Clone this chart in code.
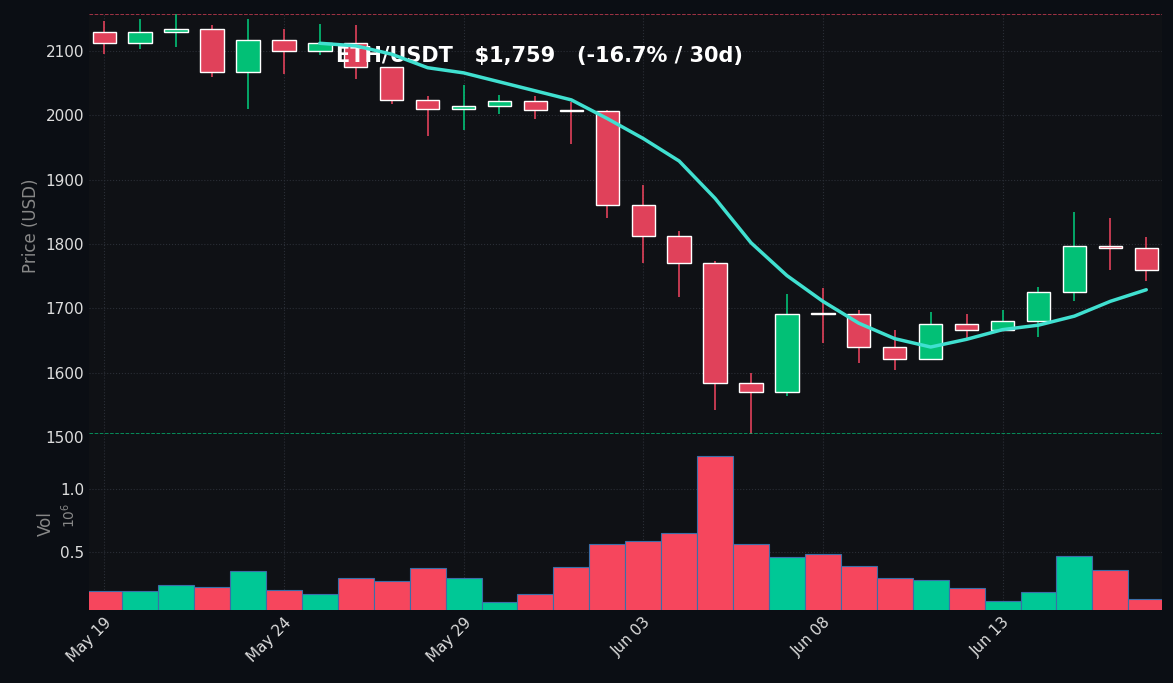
import numpy as np, pandas as pd, seaborn as sns
import matplotlib
matplotlib.use("Agg")
import matplotlib.pyplot as plt
import matplotlib.dates as mdates

dates = pd.date_range("2024-05-19", periods=30, freq="D")
opens  = [2129,2112,2129,2134,2067,2117,2100,2112,2075,2024,2010,2015,2023,2008,2007,1860,1813,1771,1584,1570,1692,1691,1640,1621,1675,1666,1681,1725,1797,1794]
closes = [2112,2129,2134,2067,2117,2100,2112,2075,2024,2010,2015,2023,2008,2007,1860,1813,1771,1584,1570,1691,1691,1640,1621,1675,1666,1681,1725,1797,1794,1759]
highs  = [2146,2150,2157,2140,2150,2134,2142,2140,2075,2030,2047,2031,2030,2021,2008,1892,1821,1774,1600,1722,1731,1697,1666,1694,1691,1697,1733,1850,1841,1811]
lows   = [2095,2103,2106,2060,2010,2064,2094,2057,2018,1968,1977,2002,1995,1956,1841,1770,1718,1542,1505,1564,1646,1615,1605,1621,1654,1666,1656,1711,1759,1743]
ma     = [np.nan]*6 + [2112,2108,2095,2074,2066,2052,2038,2024,1995,1964,1929,1871,1802,1751,1711,1677,1653,1640,1652,1667,1674,1688,1711,1729]
volume = [0.19,0.19,0.24,0.22,0.35,0.20,0.17,0.29,0.27,0.37,0.29,0.10,0.17,0.38,0.56,0.59,0.65,1.26,0.56,0.46,0.48,0.39,0.29,0.28,0.21,0.11,0.18,0.47,0.36,0.13]

BG = "#0b0e14"; AX = "#0f1115"; GREEN = "#02c076"; RED = "#e0415a"
VG = "#00c896"; VR = "#f6465d"
sns.set_theme(style="dark")
plt.rcParams.update({"text.color": "#dddddd", "axes.labelcolor": "#888888",
                     "xtick.color": "#dddddd", "ytick.color": "#dddddd"})
plt.rcParams['font.family'] = ['DejaVu Sans']

fig = plt.figure(figsize=(11.73, 6.83), dpi=100, facecolor=BG)
ax = fig.add_axes([0.076, 0.36, 0.915, 0.62])
axv = fig.add_axes([0.076, 0.107, 0.915, 0.253], sharex=ax)
x = mdates.date2num(dates)
up = np.array(closes) >= np.array(opens)
for a in (ax, axv):
    a.set_facecolor(AX)
    a.grid(True, color="#2a2e36", linestyle=":", linewidth=0.8)
    for s in a.spines.values(): s.set_visible(False)
    a.tick_params(length=0)

cols = [GREEN if u else RED for u in up]
ax.vlines(x, lows, highs, colors=cols, linewidth=1.2, zorder=2)
body = np.maximum(np.abs(np.array(closes) - np.array(opens)), 1.5)
ax.bar(x, body, bottom=np.minimum(opens, closes), width=0.65, color=cols, zorder=3)
sns.lineplot(x=x, y=ma, ax=ax, color="#40e0d0", linewidth=2.5, zorder=4)
ax.set_ylim(1505, 2158)
ax.set_yticks([1500,1600,1700,1800,1900,2000,2100])
ax.axhline(2157, color="#e0415a", linestyle="--", linewidth=0.7, alpha=0.7)
ax.axhline(1506, color="#02c076", linestyle="--", linewidth=0.7, alpha=0.7)
ax.set_ylabel("Price (USD)")
ax.text(0.42, 0.9, "ETH/USDT   $1,759   (-16.7% / 30d)", transform=ax.transAxes,
        ha="center", va="center", fontsize=15, fontweight="bold", color="white")
plt.setp(ax.get_xticklabels(), visible=False)

axv.bar(x, volume, width=1.0, color=[VG if u else VR for u in up],
        edgecolor="#3b6ea8", linewidth=0.8, zorder=3)
axv.set_ylim(0.04, 1.41)
axv.set_yticks([0.5, 1.0])
axv.set_ylabel("Vol")
axv.text(-0.01, 0.55, r"$10^6$", transform=axv.transAxes, color="#888888", rotation=90,
         ha="right", va="center", fontsize=10)
axv.set_xlim(x[0]-0.42, x[-1]+0.45)
ticks = mdates.date2num(pd.to_datetime(["2024-05-19","2024-05-24","2024-05-29","2024-06-03","2024-06-08","2024-06-13"]))
axv.set_xticks(ticks)
axv.xaxis.set_major_formatter(mdates.DateFormatter("%b %d"))
plt.setp(axv.get_xticklabels(), rotation=45, ha="right", rotation_mode="anchor")
fig.savefig("out.png", dpi=100, facecolor=BG)
